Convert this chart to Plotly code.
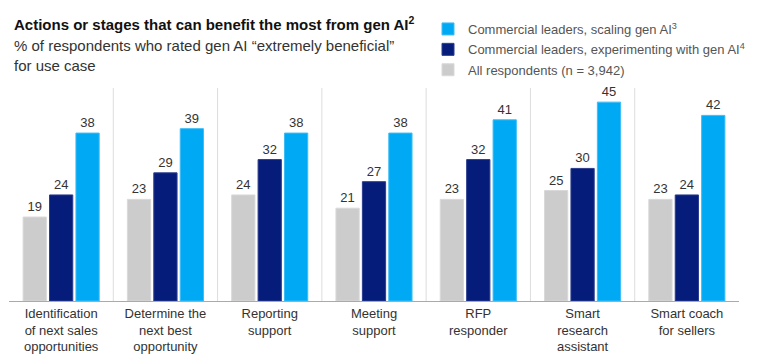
import plotly.graph_objects as go

categories = [
    "Identification<br>of next sales<br>opportunities",
    "Determine the<br>next best<br>opportunity",
    "Reporting<br>support",
    "Meeting<br>support",
    "RFP<br>responder",
    "Smart<br>research<br>assistant",
    "Smart coach<br>for sellers",
]
all_respondents = [19, 23, 24, 21, 23, 25, 23]
experimenting = [24, 29, 32, 27, 32, 30, 24]
scaling = [38, 39, 38, 38, 41, 45, 42]

series_names = [
    "All respondents (n = 3,942)",
    "Commercial leaders, experimenting with gen AI<sup>4</sup>",
    "Commercial leaders, scaling gen AI<sup>3</sup>",
]
colors = ["#CCCCCC", "#051C7A", "#00A9F4"]
edge_colors = ["#D9D9D9", "#2A3C8E", "#3DBDF6"]
legend_ranks = [3, 2, 1]

W, H = 757, 363
ML, MR, MT, MB = 9, 18, 88, 62
PH = H - MT - MB
PW = W - ML - MR

x = list(range(len(categories)))
fig = go.Figure()
for i, (name, vals) in enumerate(zip(series_names, [all_respondents, experimenting, scaling])):
    fig.add_trace(go.Bar(
        x=x, y=vals, name=name,
        marker=dict(color=colors[i], line=dict(color=edge_colors[i], width=1)),
        text=[str(v) for v in vals], textposition="outside",
        textfont=dict(size=13, color="#333333"),
        cliponaxis=False, legendrank=legend_ranks[i], legendgroup=f"g{i}",
    ))

shapes = []
for i in range(len(categories) - 1):
    shapes.append(dict(type="line", xref="x", yref="paper", x0=i + 0.5, x1=i + 0.5,
                       y0=0, y1=1, line=dict(color="#DDDDDD", width=1), layer="below"))

def py(px):
    return (H - MB - px) / PH

annotations = [
    dict(text="<b>Actions or stages that can benefit the most from gen AI<sup>2</sup></b>",
         xref="paper", yref="paper", x=(12 - ML) / PW, y=py(23), xanchor="left", yanchor="middle",
         showarrow=False, font=dict(size=15, color="#111111")),
    dict(text="% of respondents who rated gen AI “extremely beneficial”<br>for use case",
         xref="paper", yref="paper", x=(12 - ML) / PW, y=py(35), xanchor="left", yanchor="top",
         showarrow=False, align="left", font=dict(size=15, color="#333333")),
]

fig.update_layout(
    width=W, height=H,
    margin=dict(l=ML, r=MR, t=MT, b=MB, autoexpand=False),
    paper_bgcolor="white", plot_bgcolor="white",
    font=dict(family="Liberation Sans, Arial, sans-serif", color="#333333"),
    barmode="group", bargap=0.24, bargroupgap=0.12,
    showlegend=True,
    legend=dict(x=(428 - ML) / PW, y=py(14), xanchor="left", yanchor="top",
                traceorder="grouped", tracegroupgap=0.5, itemclick=False,
                font=dict(size=13, color="#555555"), bgcolor="rgba(0,0,0,0)"),
    xaxis=dict(tickmode="array", tickvals=x, ticktext=categories,
               tickfont=dict(size=13, color="#333333"), showgrid=False, automargin=False,
               showline=True, linecolor="#AAAAAA", linewidth=1, ticks="",
               range=[-0.5, len(categories) - 0.5], fixedrange=True),
    yaxis=dict(range=[0, 48.2], visible=False, showgrid=False, fixedrange=True, automargin=False),
    shapes=shapes, annotations=annotations,
)

fig.write_html("out.html", config={"displayModeBar": False},
               post_script="document.body.style.margin='0';document.body.style.overflow='hidden';")
